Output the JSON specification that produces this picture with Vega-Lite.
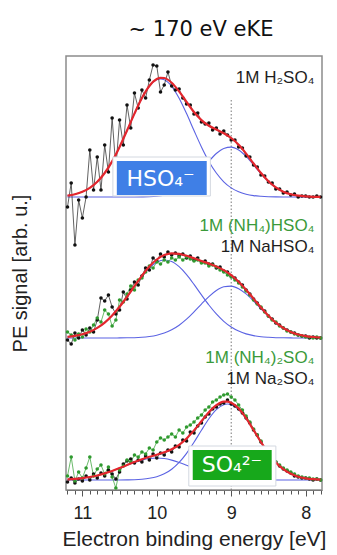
{
"$schema": "https://vega.github.io/schema/vega-lite/v6.json",
"width": 256, "height": 434,
"autosize": {"type": "none"},
"padding": {"left": 66, "top": 56, "right": 15, "bottom": 65},
"background": "white",
"config": {"view": {"stroke": "#8c8c8c", "strokeWidth": 1.5}, "font": "Liberation Sans"},
"title": {"text": "~ 170 eV eKE", "font": "DejaVu Sans", "fontSize": 21, "fontWeight": "normal", "color": "#111", "offset": 16, "dx": 7},
"datasets": {
"gauss": [
{"s":"t1","e":11.2,"y":294.4},{"s":"t1","e":11.1,"y":295.8},{"s":"t1","e":11,"y":298.2},{"s":"t1","e":10.9,"y":302.1},{"s":"t1","e":10.8,"y":308.2},{"s":"t1","e":10.7,"y":317},{"s":"t1","e":10.6,"y":328.6},{"s":"t1","e":10.5,"y":343.1},{"s":"t1","e":10.4,"y":359.5},{"s":"t1","e":10.3,"y":376.4},{"s":"t1","e":10.2,"y":391.8},{"s":"t1","e":10.1,"y":403.7},{"s":"t1","e":10,"y":410.2},{"s":"t1","e":9.95,"y":411},{"s":"t1","e":9.9,"y":410.2},{"s":"t1","e":9.8,"y":403.7},{"s":"t1","e":9.7,"y":391.8},{"s":"t1","e":9.6,"y":376.4},{"s":"t1","e":9.5,"y":359.5},{"s":"t1","e":9.4,"y":343.1},{"s":"t1","e":9.3,"y":328.6},{"s":"t1","e":9.2,"y":317},{"s":"t1","e":9.1,"y":308.2},{"s":"t1","e":9,"y":302.1},{"s":"t1","e":8.9,"y":298.2},{"s":"t1","e":8.8,"y":295.8},{"s":"t1","e":8.7,"y":294.4},{"s":"t1","e":8.6,"y":293.7},{"s":"t1","e":8.5,"y":293.3},{"s":"t1","e":8.4,"y":293.1},{"s":"t1","e":8.3,"y":293},{"s":"t1","e":8.2,"y":293},{"s":"t1","e":8.1,"y":293},{"s":"t1","e":8,"y":293},{"s":"t1","e":7.9,"y":293},{"s":"t1","e":7.8,"y":293},
{"s":"t2","e":11.2,"y":293},{"s":"t2","e":11.1,"y":293},{"s":"t2","e":11,"y":293},{"s":"t2","e":10.9,"y":293},{"s":"t2","e":10.8,"y":293},{"s":"t2","e":10.7,"y":293},{"s":"t2","e":10.6,"y":293},{"s":"t2","e":10.5,"y":293},{"s":"t2","e":10.4,"y":293},{"s":"t2","e":10.3,"y":293},{"s":"t2","e":10.2,"y":293.1},{"s":"t2","e":10.1,"y":293.3},{"s":"t2","e":10,"y":293.8},{"s":"t2","e":9.9,"y":294.8},{"s":"t2","e":9.8,"y":296.6},{"s":"t2","e":9.7,"y":299.8},{"s":"t2","e":9.6,"y":304.7},{"s":"t2","e":9.5,"y":311.5},{"s":"t2","e":9.4,"y":319.8},{"s":"t2","e":9.3,"y":328.6},{"s":"t2","e":9.2,"y":336.5},{"s":"t2","e":9.1,"y":341.6},{"s":"t2","e":9,"y":342.9},{"s":"t2","e":8.9,"y":340},{"s":"t2","e":8.8,"y":333.6},{"s":"t2","e":8.7,"y":325.1},{"s":"t2","e":8.6,"y":316.3},{"s":"t2","e":8.5,"y":308.5},{"s":"t2","e":8.4,"y":302.5},{"s":"t2","e":8.3,"y":298.3},{"s":"t2","e":8.2,"y":295.7},{"s":"t2","e":8.1,"y":294.3},{"s":"t2","e":8,"y":293.6},{"s":"t2","e":7.9,"y":293.2},{"s":"t2","e":7.8,"y":293.1},
{"s":"m1","e":11.2,"y":153.1},{"s":"m1","e":11.1,"y":154.1},{"s":"m1","e":11,"y":155.7},{"s":"m1","e":10.9,"y":158.3},{"s":"m1","e":10.8,"y":162.1},{"s":"m1","e":10.7,"y":167.4},{"s":"m1","e":10.6,"y":174.5},{"s":"m1","e":10.5,"y":183.1},{"s":"m1","e":10.4,"y":193},{"s":"m1","e":10.3,"y":203.5},{"s":"m1","e":10.2,"y":213.5},{"s":"m1","e":10.1,"y":222},{"s":"m1","e":10,"y":227.7},{"s":"m1","e":9.9,"y":230},{"s":"m1","e":9.8,"y":228.5},{"s":"m1","e":9.7,"y":223.3},{"s":"m1","e":9.6,"y":215.4},{"s":"m1","e":9.5,"y":205.6},{"s":"m1","e":9.4,"y":195.1},{"s":"m1","e":9.3,"y":185},{"s":"m1","e":9.2,"y":176.1},{"s":"m1","e":9.1,"y":168.7},{"s":"m1","e":9,"y":163},{"s":"m1","e":8.9,"y":158.9},{"s":"m1","e":8.8,"y":156.1},{"s":"m1","e":8.7,"y":154.4},{"s":"m1","e":8.6,"y":153.3},{"s":"m1","e":8.5,"y":152.7},{"s":"m1","e":8.4,"y":152.3},{"s":"m1","e":8.3,"y":152.2},{"s":"m1","e":8.2,"y":152.1},{"s":"m1","e":8.1,"y":152},{"s":"m1","e":8,"y":152},{"s":"m1","e":7.9,"y":152},{"s":"m1","e":7.8,"y":152},
{"s":"m2","e":11.2,"y":152},{"s":"m2","e":11.1,"y":152},{"s":"m2","e":11,"y":152},{"s":"m2","e":10.9,"y":152},{"s":"m2","e":10.8,"y":152},{"s":"m2","e":10.7,"y":152},{"s":"m2","e":10.6,"y":152},{"s":"m2","e":10.5,"y":152.1},{"s":"m2","e":10.4,"y":152.2},{"s":"m2","e":10.3,"y":152.3},{"s":"m2","e":10.2,"y":152.7},{"s":"m2","e":10.1,"y":153.5},{"s":"m2","e":10,"y":154.8},{"s":"m2","e":9.9,"y":156.9},{"s":"m2","e":9.8,"y":160.2},{"s":"m2","e":9.7,"y":164.8},{"s":"m2","e":9.6,"y":170.8},{"s":"m2","e":9.5,"y":178.1},{"s":"m2","e":9.4,"y":185.9},{"s":"m2","e":9.3,"y":193.4},{"s":"m2","e":9.2,"y":199.5},{"s":"m2","e":9.1,"y":203.2},{"s":"m2","e":9,"y":203.9},{"s":"m2","e":8.9,"y":201.3},{"s":"m2","e":8.8,"y":196.1},{"s":"m2","e":8.7,"y":189},{"s":"m2","e":8.6,"y":181.2},{"s":"m2","e":8.5,"y":173.6},{"s":"m2","e":8.4,"y":167},{"s":"m2","e":8.3,"y":161.8},{"s":"m2","e":8.2,"y":158},{"s":"m2","e":8.1,"y":155.5},{"s":"m2","e":8,"y":153.9},{"s":"m2","e":7.9,"y":153},{"s":"m2","e":7.8,"y":152.5},
{"s":"b1","e":11.2,"y":10.6},{"s":"b1","e":11.1,"y":11.1},{"s":"b1","e":11,"y":11.9},{"s":"b1","e":10.9,"y":13},{"s":"b1","e":10.8,"y":14.5},{"s":"b1","e":10.7,"y":16.6},{"s":"b1","e":10.6,"y":19},{"s":"b1","e":10.5,"y":21.9},{"s":"b1","e":10.4,"y":24.8},{"s":"b1","e":10.3,"y":27.6},{"s":"b1","e":10.2,"y":29.9},{"s":"b1","e":10.1,"y":31.5},{"s":"b1","e":10,"y":32},{"s":"b1","e":9.9,"y":31.5},{"s":"b1","e":9.8,"y":29.9},{"s":"b1","e":9.7,"y":27.6},{"s":"b1","e":9.6,"y":24.8},{"s":"b1","e":9.5,"y":21.9},{"s":"b1","e":9.4,"y":19},{"s":"b1","e":9.3,"y":16.6},{"s":"b1","e":9.2,"y":14.5},{"s":"b1","e":9.1,"y":13},{"s":"b1","e":9,"y":11.9},{"s":"b1","e":8.9,"y":11.1},{"s":"b1","e":8.8,"y":10.6},{"s":"b1","e":8.7,"y":10.3},{"s":"b1","e":8.6,"y":10.2},{"s":"b1","e":8.5,"y":10.1},{"s":"b1","e":8.4,"y":10},{"s":"b1","e":8.3,"y":10},{"s":"b1","e":8.2,"y":10},{"s":"b1","e":8.1,"y":10},{"s":"b1","e":8,"y":10},{"s":"b1","e":7.9,"y":10},{"s":"b1","e":7.8,"y":10},
{"s":"b2","e":11.2,"y":10},{"s":"b2","e":11.1,"y":10},{"s":"b2","e":11,"y":10},{"s":"b2","e":10.9,"y":10},{"s":"b2","e":10.8,"y":10},{"s":"b2","e":10.7,"y":10},{"s":"b2","e":10.6,"y":10},{"s":"b2","e":10.5,"y":10},{"s":"b2","e":10.4,"y":10.1},{"s":"b2","e":10.3,"y":10.3},{"s":"b2","e":10.2,"y":10.8},{"s":"b2","e":10.1,"y":11.7},{"s":"b2","e":10,"y":13.3},{"s":"b2","e":9.9,"y":16.2},{"s":"b2","e":9.8,"y":20.8},{"s":"b2","e":9.7,"y":27.6},{"s":"b2","e":9.6,"y":36.7},{"s":"b2","e":9.5,"y":47.7},{"s":"b2","e":9.4,"y":59.7},{"s":"b2","e":9.3,"y":71.2},{"s":"b2","e":9.2,"y":80.3},{"s":"b2","e":9.1,"y":85.3},{"s":"b2","e":9.05,"y":86},{"s":"b2","e":9,"y":85.3},{"s":"b2","e":8.9,"y":80.3},{"s":"b2","e":8.8,"y":71.2},{"s":"b2","e":8.7,"y":59.7},{"s":"b2","e":8.6,"y":47.7},{"s":"b2","e":8.5,"y":36.7},{"s":"b2","e":8.4,"y":27.6},{"s":"b2","e":8.3,"y":20.8},{"s":"b2","e":8.2,"y":16.2},{"s":"b2","e":8.1,"y":13.3},{"s":"b2","e":8,"y":11.7},{"s":"b2","e":7.9,"y":10.8},{"s":"b2","e":7.8,"y":10.3}
],
"fit": [
{"s":"t","e":11.2,"y":294.4},{"s":"t","e":11.1,"y":295.8},{"s":"t","e":11,"y":298.2},{"s":"t","e":10.9,"y":302.1},{"s":"t","e":10.8,"y":308.2},{"s":"t","e":10.7,"y":317},{"s":"t","e":10.6,"y":328.6},{"s":"t","e":10.5,"y":343.1},{"s":"t","e":10.4,"y":359.5},{"s":"t","e":10.3,"y":376.4},{"s":"t","e":10.2,"y":391.9},{"s":"t","e":10.1,"y":404},{"s":"t","e":10,"y":411},{"s":"t","e":9.95,"y":412.2},{"s":"t","e":9.9,"y":412},{"s":"t","e":9.8,"y":407.3},{"s":"t","e":9.7,"y":398.6},{"s":"t","e":9.6,"y":388.1},{"s":"t","e":9.5,"y":378},{"s":"t","e":9.4,"y":369.9},{"s":"t","e":9.3,"y":364.2},{"s":"t","e":9.2,"y":360.5},{"s":"t","e":9.1,"y":356.8},{"s":"t","e":9,"y":352},{"s":"t","e":8.9,"y":345.2},{"s":"t","e":8.8,"y":336.4},{"s":"t","e":8.7,"y":326.5},{"s":"t","e":8.6,"y":317},{"s":"t","e":8.5,"y":308.8},{"s":"t","e":8.4,"y":302.6},{"s":"t","e":8.3,"y":298.3},{"s":"t","e":8.2,"y":295.7},{"s":"t","e":8.1,"y":294.3},{"s":"t","e":8,"y":293.6},{"s":"t","e":7.9,"y":293.2},{"s":"t","e":7.8,"y":293.1},
{"s":"m","e":11.2,"y":153.1},{"s":"m","e":11.1,"y":154.1},{"s":"m","e":11,"y":155.7},{"s":"m","e":10.9,"y":158.3},{"s":"m","e":10.8,"y":162.1},{"s":"m","e":10.7,"y":167.4},{"s":"m","e":10.6,"y":174.5},{"s":"m","e":10.5,"y":183.2},{"s":"m","e":10.4,"y":193.2},{"s":"m","e":10.3,"y":203.8},{"s":"m","e":10.2,"y":214.2},{"s":"m","e":10.1,"y":223.5},{"s":"m","e":10,"y":230.5},{"s":"m","e":9.9,"y":234.9},{"s":"m","e":9.8,"y":236.7},{"s":"m","e":9.7,"y":236.1},{"s":"m","e":9.6,"y":234.2},{"s":"m","e":9.5,"y":231.7},{"s":"m","e":9.4,"y":229},{"s":"m","e":9.3,"y":226.4},{"s":"m","e":9.2,"y":223.6},{"s":"m","e":9.1,"y":219.9},{"s":"m","e":9,"y":214.9},{"s":"m","e":8.9,"y":208.2},{"s":"m","e":8.8,"y":200.2},{"s":"m","e":8.7,"y":191.4},{"s":"m","e":8.6,"y":182.5},{"s":"m","e":8.5,"y":174.3},{"s":"m","e":8.4,"y":167.3},{"s":"m","e":8.3,"y":162},{"s":"m","e":8.2,"y":158.1},{"s":"m","e":8.1,"y":155.5},{"s":"m","e":8,"y":153.9},{"s":"m","e":7.9,"y":153},{"s":"m","e":7.8,"y":152.5},
{"s":"b","e":11.2,"y":10.6},{"s":"b","e":11.1,"y":11.1},{"s":"b","e":11,"y":11.9},{"s":"b","e":10.9,"y":13},{"s":"b","e":10.8,"y":14.5},{"s":"b","e":10.7,"y":16.6},{"s":"b","e":10.6,"y":19},{"s":"b","e":10.5,"y":21.9},{"s":"b","e":10.4,"y":24.9},{"s":"b","e":10.3,"y":27.9},{"s":"b","e":10.2,"y":30.7},{"s":"b","e":10.1,"y":33.2},{"s":"b","e":10,"y":35.3},{"s":"b","e":9.9,"y":37.7},{"s":"b","e":9.8,"y":40.7},{"s":"b","e":9.7,"y":45.2},{"s":"b","e":9.6,"y":51.5},{"s":"b","e":9.5,"y":59.6},{"s":"b","e":9.4,"y":68.7},{"s":"b","e":9.3,"y":77.8},{"s":"b","e":9.2,"y":84.8},{"s":"b","e":9.1,"y":88.3},{"s":"b","e":9.05,"y":88.4},{"s":"b","e":9,"y":87.2},{"s":"b","e":8.9,"y":81.4},{"s":"b","e":8.8,"y":71.8},{"s":"b","e":8.7,"y":60},{"s":"b","e":8.6,"y":47.9},{"s":"b","e":8.5,"y":36.8},{"s":"b","e":8.4,"y":27.6},{"s":"b","e":8.3,"y":20.8},{"s":"b","e":8.2,"y":16.2},{"s":"b","e":8.1,"y":13.3},{"s":"b","e":8,"y":11.7},{"s":"b","e":7.9,"y":10.8},{"s":"b","e":7.8,"y":10.3}
],
"obs": [
{"s":"tk","e":11.2,"y":283},{"s":"tk","e":11.15,"y":307},{"s":"tk","e":11.1,"y":245},{"s":"tk","e":11.05,"y":290},{"s":"tk","e":11,"y":272},{"s":"tk","e":10.95,"y":293},{"s":"tk","e":10.9,"y":340},{"s":"tk","e":10.85,"y":300},{"s":"tk","e":10.8,"y":333},{"s":"tk","e":10.75,"y":300},{"s":"tk","e":10.7,"y":345},{"s":"tk","e":10.65,"y":318},{"s":"tk","e":10.6,"y":372},{"s":"tk","e":10.55,"y":322},{"s":"tk","e":10.5,"y":370},{"s":"tk","e":10.45,"y":345},{"s":"tk","e":10.4,"y":385},{"s":"tk","e":10.35,"y":362},{"s":"tk","e":10.3,"y":397},{"s":"tk","e":10.25,"y":382},{"s":"tk","e":10.2,"y":400},{"s":"tk","e":10.15,"y":392},{"s":"tk","e":10.1,"y":410},{"s":"tk","e":10.05,"y":425},{"s":"tk","e":10,"y":424},{"s":"tk","e":9.95,"y":398},{"s":"tk","e":9.9,"y":405},{"s":"tk","e":9.85,"y":418},{"s":"tk","e":9.8,"y":404},{"s":"tk","e":9.75,"y":400},{"s":"tk","e":9.7,"y":401},{"s":"tk","e":9.65,"y":392},{"s":"tk","e":9.6,"y":386},{"s":"tk","e":9.55,"y":385},{"s":"tk","e":9.5,"y":376},{"s":"tk","e":9.45,"y":377},{"s":"tk","e":9.4,"y":368},{"s":"tk","e":9.35,"y":366},{"s":"tk","e":9.3,"y":367},{"s":"tk","e":9.25,"y":360},{"s":"tk","e":9.2,"y":362},{"s":"tk","e":9.15,"y":356},{"s":"tk","e":9.1,"y":359},{"s":"tk","e":9.05,"y":355},{"s":"tk","e":9,"y":350},{"s":"tk","e":8.95,"y":350},{"s":"tk","e":8.9,"y":343},{"s":"tk","e":8.85,"y":342},{"s":"tk","e":8.8,"y":334},{"s":"tk","e":8.75,"y":333},{"s":"tk","e":8.7,"y":325},{"s":"tk","e":8.65,"y":323},{"s":"tk","e":8.6,"y":315},{"s":"tk","e":8.55,"y":314},{"s":"tk","e":8.5,"y":308},{"s":"tk","e":8.45,"y":307},{"s":"tk","e":8.4,"y":301},{"s":"tk","e":8.35,"y":301},{"s":"tk","e":8.3,"y":297},{"s":"tk","e":8.25,"y":298},{"s":"tk","e":8.2,"y":295},{"s":"tk","e":8.15,"y":296},{"s":"tk","e":8.1,"y":293},{"s":"tk","e":8.05,"y":294},{"s":"tk","e":8,"y":294},{"s":"tk","e":7.95,"y":293},{"s":"tk","e":7.9,"y":293},{"s":"tk","e":7.85,"y":294},{"s":"tk","e":7.8,"y":293},
{"s":"mk","e":11.2,"y":150},{"s":"mk","e":11.15,"y":146},{"s":"mk","e":11.1,"y":157},{"s":"mk","e":11.05,"y":152},{"s":"mk","e":11,"y":160},{"s":"mk","e":10.95,"y":155},{"s":"mk","e":10.9,"y":162},{"s":"mk","e":10.85,"y":158},{"s":"mk","e":10.8,"y":170},{"s":"mk","e":10.75,"y":192},{"s":"mk","e":10.7,"y":189},{"s":"mk","e":10.65,"y":195},{"s":"mk","e":10.6,"y":183},{"s":"mk","e":10.55,"y":176},{"s":"mk","e":10.5,"y":180},{"s":"mk","e":10.45,"y":198},{"s":"mk","e":10.4,"y":191},{"s":"mk","e":10.35,"y":200},{"s":"mk","e":10.3,"y":208},{"s":"mk","e":10.25,"y":205},{"s":"mk","e":10.2,"y":214},{"s":"mk","e":10.15,"y":222},{"s":"mk","e":10.1,"y":220},{"s":"mk","e":10.05,"y":232},{"s":"mk","e":10,"y":229},{"s":"mk","e":9.95,"y":236},{"s":"mk","e":9.9,"y":233},{"s":"mk","e":9.85,"y":238},{"s":"mk","e":9.8,"y":235},{"s":"mk","e":9.75,"y":237},{"s":"mk","e":9.7,"y":234},{"s":"mk","e":9.65,"y":236},{"s":"mk","e":9.6,"y":232},{"s":"mk","e":9.55,"y":234},{"s":"mk","e":9.5,"y":230},{"s":"mk","e":9.45,"y":232},{"s":"mk","e":9.4,"y":228},{"s":"mk","e":9.35,"y":229},{"s":"mk","e":9.3,"y":226},{"s":"mk","e":9.25,"y":226},{"s":"mk","e":9.2,"y":222},{"s":"mk","e":9.15,"y":223},{"s":"mk","e":9.1,"y":219},{"s":"mk","e":9.05,"y":218},{"s":"mk","e":9,"y":214},{"s":"mk","e":8.95,"y":212},{"s":"mk","e":8.9,"y":208},{"s":"mk","e":8.85,"y":205},{"s":"mk","e":8.8,"y":200},{"s":"mk","e":8.75,"y":196},{"s":"mk","e":8.7,"y":191},{"s":"mk","e":8.65,"y":187},{"s":"mk","e":8.6,"y":182},{"s":"mk","e":8.55,"y":179},{"s":"mk","e":8.5,"y":174},{"s":"mk","e":8.45,"y":171},{"s":"mk","e":8.4,"y":167},{"s":"mk","e":8.35,"y":165},{"s":"mk","e":8.3,"y":162},{"s":"mk","e":8.25,"y":160},{"s":"mk","e":8.2,"y":158},{"s":"mk","e":8.15,"y":157},{"s":"mk","e":8.1,"y":155},{"s":"mk","e":8.05,"y":154},{"s":"mk","e":8,"y":154},{"s":"mk","e":7.95,"y":152},{"s":"mk","e":7.9,"y":153},{"s":"mk","e":7.85,"y":152},{"s":"mk","e":7.8,"y":152},
{"s":"bk","e":11.2,"y":8},{"s":"bk","e":11.15,"y":12},{"s":"bk","e":11.1,"y":7},{"s":"bk","e":11.05,"y":11},{"s":"bk","e":11,"y":9},{"s":"bk","e":10.95,"y":14},{"s":"bk","e":10.9,"y":10},{"s":"bk","e":10.85,"y":16},{"s":"bk","e":10.8,"y":12},{"s":"bk","e":10.75,"y":17},{"s":"bk","e":10.7,"y":14},{"s":"bk","e":10.65,"y":20},{"s":"bk","e":10.6,"y":16},{"s":"bk","e":10.55,"y":11},{"s":"bk","e":10.5,"y":18},{"s":"bk","e":10.45,"y":26},{"s":"bk","e":10.4,"y":29},{"s":"bk","e":10.35,"y":31},{"s":"bk","e":10.3,"y":27},{"s":"bk","e":10.25,"y":30},{"s":"bk","e":10.2,"y":28},{"s":"bk","e":10.15,"y":34},{"s":"bk","e":10.1,"y":30},{"s":"bk","e":10.05,"y":36},{"s":"bk","e":10,"y":32},{"s":"bk","e":9.95,"y":37},{"s":"bk","e":9.9,"y":35},{"s":"bk","e":9.85,"y":40},{"s":"bk","e":9.8,"y":38},{"s":"bk","e":9.75,"y":44},{"s":"bk","e":9.7,"y":43},{"s":"bk","e":9.65,"y":50},{"s":"bk","e":9.6,"y":49},{"s":"bk","e":9.55,"y":58},{"s":"bk","e":9.5,"y":57},{"s":"bk","e":9.45,"y":64},{"s":"bk","e":9.4,"y":67},{"s":"bk","e":9.35,"y":73},{"s":"bk","e":9.3,"y":76},{"s":"bk","e":9.25,"y":81},{"s":"bk","e":9.2,"y":83},{"s":"bk","e":9.15,"y":86},{"s":"bk","e":9.1,"y":87},{"s":"bk","e":9.05,"y":90},{"s":"bk","e":9,"y":86},{"s":"bk","e":8.95,"y":84},{"s":"bk","e":8.9,"y":81},{"s":"bk","e":8.85,"y":77},{"s":"bk","e":8.8,"y":72},{"s":"bk","e":8.75,"y":67},{"s":"bk","e":8.7,"y":60},{"s":"bk","e":8.65,"y":55},{"s":"bk","e":8.6,"y":48},{"s":"bk","e":8.55,"y":42},{"s":"bk","e":8.5,"y":37},{"s":"bk","e":8.45,"y":32},{"s":"bk","e":8.4,"y":28},{"s":"bk","e":8.35,"y":24},{"s":"bk","e":8.3,"y":21},{"s":"bk","e":8.25,"y":19},{"s":"bk","e":8.2,"y":17},{"s":"bk","e":8.15,"y":14},{"s":"bk","e":8.1,"y":13},{"s":"bk","e":8.05,"y":12},{"s":"bk","e":8,"y":12},{"s":"bk","e":7.95,"y":11},{"s":"bk","e":7.9,"y":10},{"s":"bk","e":7.85,"y":11},{"s":"bk","e":7.8,"y":10},
{"s":"mg","e":11.2,"y":158},{"s":"mg","e":11.15,"y":155},{"s":"mg","e":11.1,"y":150},{"s":"mg","e":11.05,"y":156},{"s":"mg","e":11,"y":153},{"s":"mg","e":10.95,"y":161},{"s":"mg","e":10.9,"y":158},{"s":"mg","e":10.85,"y":165},{"s":"mg","e":10.8,"y":172},{"s":"mg","e":10.75,"y":168},{"s":"mg","e":10.7,"y":180},{"s":"mg","e":10.65,"y":176},{"s":"mg","e":10.6,"y":164},{"s":"mg","e":10.55,"y":170},{"s":"mg","e":10.5,"y":190},{"s":"mg","e":10.45,"y":188},{"s":"mg","e":10.4,"y":196},{"s":"mg","e":10.35,"y":204},{"s":"mg","e":10.3,"y":200},{"s":"mg","e":10.25,"y":210},{"s":"mg","e":10.2,"y":212},{"s":"mg","e":10.15,"y":218},{"s":"mg","e":10.1,"y":224},{"s":"mg","e":10.05,"y":222},{"s":"mg","e":10,"y":228},{"s":"mg","e":9.95,"y":226},{"s":"mg","e":9.9,"y":230},{"s":"mg","e":9.85,"y":228},{"s":"mg","e":9.8,"y":232},{"s":"mg","e":9.75,"y":230},{"s":"mg","e":9.7,"y":233},{"s":"mg","e":9.65,"y":230},{"s":"mg","e":9.6,"y":233},{"s":"mg","e":9.55,"y":231},{"s":"mg","e":9.5,"y":229},{"s":"mg","e":9.45,"y":230},{"s":"mg","e":9.4,"y":227},{"s":"mg","e":9.35,"y":227},{"s":"mg","e":9.3,"y":224},{"s":"mg","e":9.25,"y":225},{"s":"mg","e":9.2,"y":223},{"s":"mg","e":9.15,"y":220},{"s":"mg","e":9.1,"y":218},{"s":"mg","e":9.05,"y":215},{"s":"mg","e":9,"y":213},{"s":"mg","e":8.95,"y":210},{"s":"mg","e":8.9,"y":207},{"s":"mg","e":8.85,"y":203},{"s":"mg","e":8.8,"y":199},{"s":"mg","e":8.75,"y":195},{"s":"mg","e":8.7,"y":190},{"s":"mg","e":8.65,"y":186},{"s":"mg","e":8.6,"y":183},{"s":"mg","e":8.55,"y":178},{"s":"mg","e":8.5,"y":174},{"s":"mg","e":8.45,"y":170},{"s":"mg","e":8.4,"y":168},{"s":"mg","e":8.35,"y":164},{"s":"mg","e":8.3,"y":162},{"s":"mg","e":8.25,"y":159},{"s":"mg","e":8.2,"y":158},{"s":"mg","e":8.15,"y":156},{"s":"mg","e":8.1,"y":155},{"s":"mg","e":8.05,"y":154},{"s":"mg","e":8,"y":153},{"s":"mg","e":7.95,"y":153},{"s":"mg","e":7.9,"y":152},{"s":"mg","e":7.85,"y":153},{"s":"mg","e":7.8,"y":152},
{"s":"bg","e":11.2,"y":14},{"s":"bg","e":11.15,"y":33},{"s":"bg","e":11.1,"y":9},{"s":"bg","e":11.05,"y":18},{"s":"bg","e":11,"y":12},{"s":"bg","e":10.95,"y":22},{"s":"bg","e":10.9,"y":33},{"s":"bg","e":10.85,"y":14},{"s":"bg","e":10.8,"y":21},{"s":"bg","e":10.75,"y":25},{"s":"bg","e":10.7,"y":16},{"s":"bg","e":10.65,"y":23},{"s":"bg","e":10.6,"y":13},{"s":"bg","e":10.55,"y":2},{"s":"bg","e":10.5,"y":20},{"s":"bg","e":10.45,"y":24},{"s":"bg","e":10.4,"y":30},{"s":"bg","e":10.35,"y":28},{"s":"bg","e":10.3,"y":35},{"s":"bg","e":10.25,"y":33},{"s":"bg","e":10.2,"y":38},{"s":"bg","e":10.15,"y":36},{"s":"bg","e":10.1,"y":42},{"s":"bg","e":10.05,"y":40},{"s":"bg","e":10,"y":48},{"s":"bg","e":9.95,"y":52},{"s":"bg","e":9.9,"y":50},{"s":"bg","e":9.85,"y":53},{"s":"bg","e":9.8,"y":56},{"s":"bg","e":9.75,"y":53},{"s":"bg","e":9.7,"y":60},{"s":"bg","e":9.65,"y":57},{"s":"bg","e":9.6,"y":63},{"s":"bg","e":9.55,"y":65},{"s":"bg","e":9.5,"y":68},{"s":"bg","e":9.45,"y":72},{"s":"bg","e":9.4,"y":75},{"s":"bg","e":9.35,"y":80},{"s":"bg","e":9.3,"y":83},{"s":"bg","e":9.25,"y":88},{"s":"bg","e":9.2,"y":90},{"s":"bg","e":9.15,"y":93},{"s":"bg","e":9.1,"y":95},{"s":"bg","e":9.05,"y":96},{"s":"bg","e":9,"y":93},{"s":"bg","e":8.95,"y":90},{"s":"bg","e":8.9,"y":85},{"s":"bg","e":8.85,"y":80},{"s":"bg","e":8.8,"y":74},{"s":"bg","e":8.75,"y":68},{"s":"bg","e":8.7,"y":61},{"s":"bg","e":8.65,"y":55},{"s":"bg","e":8.6,"y":49},{"s":"bg","e":8.55,"y":42},{"s":"bg","e":8.5,"y":37},{"s":"bg","e":8.45,"y":33},{"s":"bg","e":8.4,"y":28},{"s":"bg","e":8.35,"y":25},{"s":"bg","e":8.3,"y":22},{"s":"bg","e":8.25,"y":20},{"s":"bg","e":8.2,"y":18},{"s":"bg","e":8.15,"y":16},{"s":"bg","e":8.1,"y":14},{"s":"bg","e":8.05,"y":13},{"s":"bg","e":8,"y":12},{"s":"bg","e":7.95,"y":12},{"s":"bg","e":7.9,"y":11},{"s":"bg","e":7.85,"y":11},{"s":"bg","e":7.8,"y":10}
],
"frames": [
{"e":10.59,"e2":9.28,"y":294,"y2":333},
{"e":9.57,"e2":8.4,"y":4,"y2":44}
],
"boxes": [
{"k":"HSO4","e":10.537,"e2":9.329,"y":295,"y2":329},
{"k":"SO4","e":9.517,"e2":8.456,"y":10,"y2":40}
],
"boxlabels": [
{"e":9.95,"y":311,"t":"HSO₄⁻"},
{"e":8.99,"y":25,"t":"SO₄²⁻"}
],
"labels": [
{"k":"na","e":7.88,"y":412,"t":"1M H₂SO₄"},
{"k":"nh","e":7.88,"y":264,"t":"1M (NH₄)HSO₄"},
{"k":"na","e":7.88,"y":243,"t":"1M NaHSO₄"},
{"k":"nh","e":7.88,"y":132,"t":"1M (NH₄)₂SO₄"},
{"k":"na","e":7.88,"y":111,"t":"1M Na₂SO₄"}
]
},
"encoding": {
"x": {"field": "e", "type": "quantitative",
 "scale": {"domain": [7.78, 11.22], "reverse": true, "nice": false, "zero": false},
 "axis": {"title": "Electron binding energy [eV]", "values": [11.2,11.1,11,10.9,10.8,10.7,10.6,10.5,10.4,10.3,10.2,10.1,10,9.9,9.8,9.7,9.6,9.5,9.4,9.3,9.2,9.1,9,8.9,8.8,8.7,8.6,8.5,8.4,8.3,8.2,8.1,8,7.9,7.8],
  "labelExpr": "abs(datum.value - round(datum.value)) < 0.001 ? format(datum.value, 'd') : ''",
  "tickSize": {"condition": {"test": "abs(datum.value - round(datum.value)) < 0.001", "value": 6}, "value": 4},
  "grid": false, "labelFontSize": 18, "labelFont": "Liberation Sans", "labelColor": "#222", "labelPadding": 8, "labelOverlap": false, "labelFlush": false,
  "tickColor": "#555", "domainColor": "#777", "domainWidth": 1.2,
  "titleFontSize": 21, "titleFont": "Liberation Sans", "titleFontWeight": "normal", "titleColor": "#222", "titlePadding": 6}},
"y": {"field": "y", "type": "quantitative",
 "scale": {"domain": [0, 434], "nice": false, "zero": false},
 "axis": {"title": "PE signal [arb. u.]", "labels": false, "ticks": false, "domain": false, "grid": false,
  "titleFontSize": 20, "titleFont": "Liberation Sans", "titleFontWeight": "normal", "titleColor": "#222", "titlePadding": 36}}
},
"layer": [
{"data": {"values": [{"e": 9, "y": 0, "y2": 392}]}, "mark": {"type": "rule", "color": "#777", "strokeDash": [1.5, 2], "strokeWidth": 1}, "encoding": {"y2": {"field": "y2"}}},
{"data": {"name": "gauss"}, "mark": {"type": "line", "color": "#5b63e3", "strokeWidth": 1.1, "interpolate": "monotone"}, "encoding": {"detail": {"field": "s"}}},
{"data": {"name": "obs"}, "mark": {"type": "line", "strokeWidth": 0.8}, "encoding": {"color": {"field": "s", "type": "nominal", "scale": {"domain": ["tk","mk","bk","mg","bg"], "range": ["#3a3a3a","#3a3a3a","#3a3a3a","#45a845","#45a845"]}, "legend": null}}},
{"data": {"name": "obs"}, "mark": {"type": "circle", "size": 13, "opacity": 1}, "encoding": {"color": {"field": "s", "type": "nominal", "scale": {"domain": ["tk","mk","bk","mg","bg"], "range": ["#111","#111","#111","#2f9a2f","#2f9a2f"]}, "legend": null}}},
{"data": {"name": "fit"}, "mark": {"type": "line", "color": "#e3262d", "strokeWidth": 2.2, "interpolate": "monotone"}, "encoding": {"detail": {"field": "s"}}},
{"data": {"name": "frames"}, "mark": {"type": "rect", "fill": "white", "stroke": "#d3d8e0", "strokeWidth": 1}, "encoding": {"x2": {"field": "e2"}, "y2": {"field": "y2"}}},
{"data": {"name": "boxes"}, "mark": {"type": "rect"}, "encoding": {"x2": {"field": "e2"}, "y2": {"field": "y2"}, "color": {"field": "k", "type": "nominal", "scale": {"domain": ["HSO4","SO4"], "range": ["#3f7fe6","#17a81b"]}, "legend": null}}},
{"data": {"name": "boxlabels"}, "mark": {"type": "text", "color": "white", "font": "DejaVu Sans", "fontSize": 22, "align": "center", "baseline": "middle"}, "encoding": {"text": {"field": "t"}}},
{"data": {"name": "labels"}, "mark": {"type": "text", "font": "Liberation Sans", "fontSize": 17, "align": "right", "baseline": "middle"}, "encoding": {"text": {"field": "t"}, "color": {"field": "k", "type": "nominal", "scale": {"domain": ["na","nh"], "range": ["#1e1e1e","#3a9a3a"]}, "legend": null}}}
],
"resolve": {"scale": {"color": "independent"}}
}
